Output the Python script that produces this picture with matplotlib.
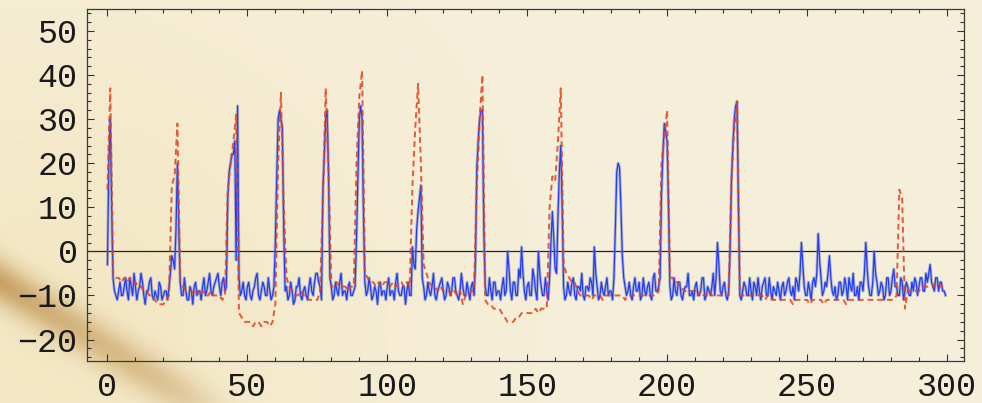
import numpy as np
import matplotlib
matplotlib.use("Agg")
import matplotlib.pyplot as plt
from matplotlib.ticker import MultipleLocator

# sample index, one reading per unit for red, two per unit for blue
x_vals = np.arange(0, 300)

# blue trace (solid) at integer x
blue_vals = [
    -3, 30, -6, -10, -9, -10, -8, -9, -6, -10,
    -8, -9, -5, -10, -9, -7, -10, -9, -11, -8,
    -10, -9, -8, -1, -4, 20, -7, -10, -9, -11,
    -9, -8, -10, -9, -8, -10, -7, -9, -8, -6,
    -8, -7, -9, 12, 20, 22, -2, -6, -9, -10,
    -8, -10, -9, -6, -10, -9, -8, -10, -9, -10,
    2, 30, 30, 5, -8, -10, -9, -11, -8, -10,
    -9, -10, -8, -9, -7, -5, -8, 14, 30, 18,
    -8, -10, -9, -7, -10, -9, -8, -10, -9, 3,
    30, 30, -7, -9, -8, -10, -9, -8, -10, -9,
    -8, -10, -9, -7, -9, -10, -8, -9, -10, 1,
    -4, 9, 15, -8, -10, -9, -8, -10, -9, -7,
    -9, -10, -8, -9, -6, -10, -9, -8, -10, -9,
    -8, -10, 19, 30, 32, -8, -10, -9, -7, -10,
    -9, -8, -10, 0, -9, -7, -10, -4, 1, -9,
    -8, -10, -4, -9, 0, -8, -10, -9, -6, 9,
    -4, 8, 24, -8, -10, -9, -7, -10, -8, -9,
    -10, -8, -9, -7, 1, -8, -10, -9, -8, -10,
    -9, -6, 18, 19, -1, -8, -9, -10, -8, -9,
    -7, -10, -9, -8, -10, -6, -9, -8, 13, 29,
    25, -8, -10, -9, -7, -10, -9, -8, -10, -9,
    -8, -10, -9, -6, -10, -9, -8, -10, 2, -9,
    -8, -10, -9, 16, 30, 34, -10, -9, -8, -10,
    -9, -7, -10, -9, -8, -6, -10, -9, -8, -10,
    -9, -8, -10, -7, -9, -8, -6, -9, 2, -8,
    -10, -9, -7, -8, 4, -6, -9, -8, -1, -9,
    -8, -10, -7, -9, -8, -6, -9, -10, -8, -7,
    -9, 2, -8, -10, 0, -7, -9, -8, -10, -6,
    -9, -4, -8, -10, -7, -9, -8, -10, -9, -7,
    -8, -6, -9, -7, -3, -8, -6, -9, -7, -9,
]

# blue trace at the half steps (x + 0.5)
blue_mid = [
    20, 10, -9, -11, -7, -10, -6, -11, -8, -5,
    -11, -8, -7, -12, -9, -6, -11, -10, -7, -11,
    -9, -11, -5, -2, 5, 5, -10, -6, -11, -8,
    -12, -7, -9, -11, -6, -9, -5, -10, -7, -5,
    -10, -6, -8, 18, 22, 25, 33, -10, -7, -11,
    -7, -11, -8, -5, -11, -7, -10, -6, -11, -8,
    17, 32, 28, -9, -11, -7, -12, -8, -6, -11,
    -8, -11, -6, -10, -5, -7, -11, 22, 32, -6,
    -11, -7, -10, -5, -9, -11, -7, -10, -8, 16,
    33, 8, -10, -6, -11, -8, -12, -7, -9, -11,
    -6, -9, -11, -5, -10, -8, -12, -7, -10, -3,
    5, 12, -6, -11, -7, -10, -5, -11, -8, -6,
    -11, -7, -10, -6, -9, -11, -5, -10, -7, -11,
    -7, -3, 25, 32, 5, -10, -6, -11, -7, -9,
    -11, -6, -9, -4, -11, -7, -10, -6, -5, -11,
    -7, -10, -6, -11, -5, -10, -6, -11, 2, 3,
    -5, 18, 10, -11, -7, -10, -6, -11, -8, -5,
    -11, -8, -6, -10, -5, -11, -7, -10, -6, -9,
    -11, 5, 20, 10, -6, -10, -7, -11, -6, -9,
    -11, -6, -10, -7, -11, -5, -9, -6, 22, 27,
    10, -11, -6, -10, -7, -11, -8, -5, -10, -11,
    -7, -10, -6, -11, -8, -10, -5, -6, -3, -10,
    -7, -11, 0, 24, 33, 10, -11, -7, -10, -6,
    -11, -8, -6, -11, -7, -10, -6, -11, -9, -7,
    -11, -7, -9, -6, -10, -11, -7, -5, -3, -10,
    -7, -11, -6, -5, -2, -10, -7, -5, -6, -10,
    -11, -7, -10, -6, -11, -8, -5, -10, -11, -7,
    -5, -4, -10, -7, -5, -10, -7, -11, -6, -10,
    -6, -8, -10, -6, -11, -7, -10, -7, -6, -10,
    -6, -9, -5, -5, -7, -9, -6, -7, -9, -10,
]

# red trace, dashed
red_vals = [
    14, 37, -5, -6, -6, -7, -6, -7, -6, -7,
    -7, -8, -8, -9, -9, -10, -10, -11, -12, -12,
    -12, -11, -10, 15, 17, 29, -7, -8, -9, -9,
    -9, -10, -9, -10, -9, -10, -10, -9, -10, -10,
    -10, -11, -10, 14, 20, 25, 31, -14, -15, -16,
    -16, -16, -17, -16, -16, -17, -16, -16, -17, -16,
    -12, 20, 36, 10, -6, -8, -9, -10, -10, -9,
    -10, -10, -11, -11, -11, -11, -9, 12, 37, 18,
    -8, -8, -7, -8, -8, -8, -9, -8, -8, 20,
    35, 41, -5, -6, -7, -7, -8, -7, -8, -7,
    -7, -8, -7, -8, -7, -7, -8, -7, -8, 15,
    28, 38, 20, -3, -5, -7, -8, -8, -9, -8,
    -9, -9, -9, -10, -9, -10, -9, -12, -10, -10,
    -9, -9, 15, 30, 40, -11, -12, -12, -13, -13,
    -13, -14, -15, -16, -16, -16, -15, -15, -14, -14,
    -14, -14, -14, -13, -14, -13, -13, -13, 10, 17,
    16, 25, 37, -3, -5, -6, -7, -7, -9, -10,
    -10, -10, -10, -11, -10, -10, -10, -11, -10, -10,
    -10, -10, -10, -10, -10, -11, -10, -10, -10, -10,
    -10, -10, -10, -10, -10, -10, -10, -9, 20, 26,
    32, -6, -6, -7, -7, -8, -9, -9, -9, -9,
    -9, -10, -9, -10, -10, -9, -10, -10, -10, -10,
    -10, -10, -10, 16, 28, 34, -10, -10, -10, -10,
    -10, -10, -10, -10, -10, -11, -10, -10, -11, -11,
    -11, -11, -11, -11, -11, -12, -11, -11, -11, -11,
    -11, -12, -11, -11, -11, -11, -12, -11, -11, -11,
    -11, -11, -11, -11, -12, -11, -11, -11, -11, -11,
    -11, -11, -11, -11, -11, -11, -11, -11, -11, -11,
    -11, -11, -10, 14, 12, -13, -9, -9, -9, -9,
    -9, -8, -8, -8, -8, -8, -7, -7, -8, -8,
]

x_ticks = [0, 50, 100, 150, 200, 250, 300]
y_ticks = [-20, -10, 0, 10, 20, 30, 40, 50]

# interleave integer and half-step blue readings
blue_x = np.column_stack([x_vals, x_vals + 0.5]).ravel()
blue_y = np.column_stack([blue_vals, blue_mid]).ravel()

W, H = 982, 403
fig = plt.figure(figsize=(W / 100, H / 100), dpi=100)

# parchment background with a soft brown stain across the lower left
yy, xx = np.mgrid[0:H, 0:W].astype(float)
img = np.ones((H, W, 3)) * np.array([246, 239, 218], float)
warm = np.exp(-((xx - 60) ** 2 + (yy - 330) ** 2) / (2 * 220 ** 2))
img -= warm[..., None] * np.array([3, 8, 22])
p0 = np.array([0.0, 282.0])
d = np.array([200.0, 123.0]) / np.hypot(200, 123)
dist = np.abs((xx - p0[0]) * d[1] - (yy - p0[1]) * d[0])
along = (xx - p0[0]) * d[0] + (yy - p0[1]) * d[1]
stain = np.exp(-(dist / 20) ** 2) * (0.45 + 0.55 * np.exp(-np.clip(along, 0, None) / 140))
stain *= 1 / (1 + np.exp((along - 240) / 20))
img -= stain[..., None] * np.array([42, 68, 95])
fig.figimage(np.clip(img, 0, 255).astype(np.uint8), xo=0, yo=0, zorder=-10)

ax = fig.add_axes([87.3 / W, 1 - 360.7 / H, (964 - 87.3) / W, (360.7 - 9.3) / H])
ax.set_facecolor("none")

ax.axhline(0, color="#222222", lw=0.9, zorder=1)
ax.plot(blue_x, blue_y, color="#7480b8", lw=2.2, alpha=0.5, zorder=2)
ax.plot(blue_x, blue_y, color="#1f3cff", lw=0.9, zorder=3)
ax.plot(x_vals, red_vals, color="#e4401e", lw=1.4, dashes=(3, 2), alpha=0.85, zorder=4)

ax.set_xlim(-7.2, 306.1)
ax.set_ylim(-24.8, 54.9)
ax.set_xticks(x_ticks)
ax.set_yticks(y_ticks)
ax.xaxis.set_minor_locator(MultipleLocator(10))
ax.yaxis.set_minor_locator(MultipleLocator(2))
ax.tick_params(which="both", direction="in", top=True, right=True, color="#333333", width=0.8)
ax.tick_params(which="major", length=5)
ax.tick_params(which="minor", length=3)
ax.tick_params(axis="y", pad=7)
ax.tick_params(axis="x", pad=8)
for lab in ax.get_xticklabels() + ax.get_yticklabels():
    lab.set_fontfamily("Liberation Mono")
    lab.set_fontsize(24)
    lab.set_color("#1a1a1a")
for sp in ax.spines.values():
    sp.set_color("#3a3a3a")
    sp.set_linewidth(0.9)

fig.savefig("out.png", dpi=100)
